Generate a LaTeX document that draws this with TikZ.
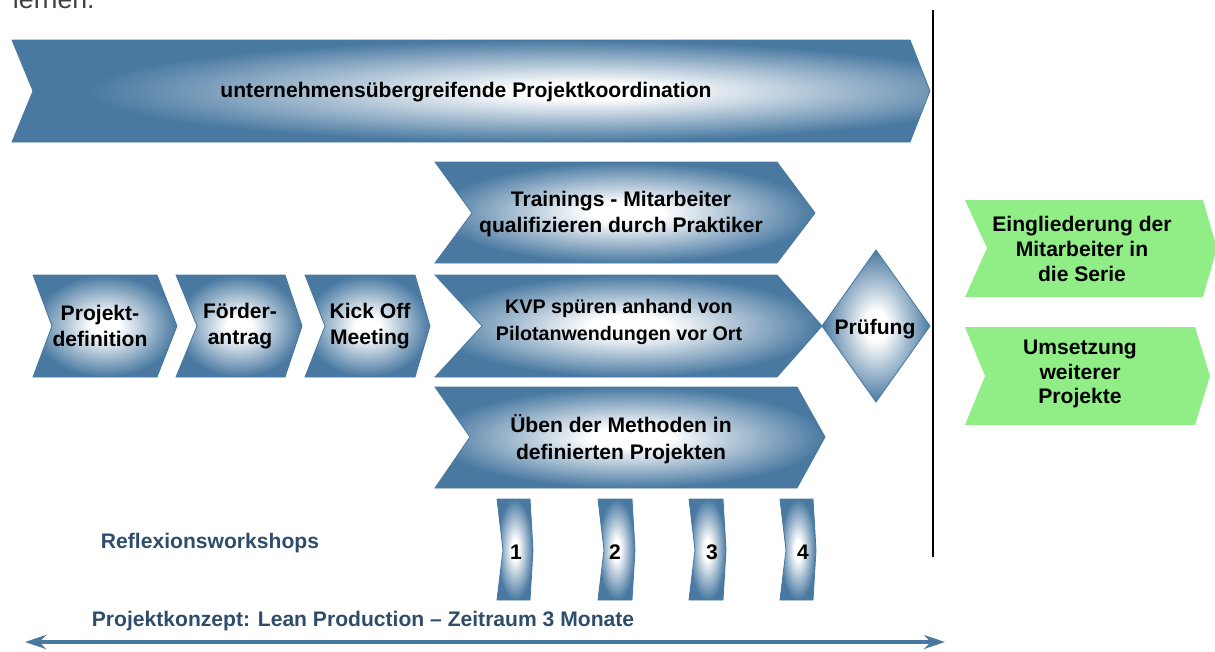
\documentclass[tikz,border=0pt]{standalone}
\usepackage{fontspec}
\setmainfont{Liberation Sans}
\usetikzlibrary{arrows.meta}
\definecolor{chevblue}{RGB}{73,121,161}
\definecolor{deepblue}{RGB}{46,77,107}
\definecolor{signgreen}{RGB}{145,238,135}
\pgfdeclareradialshading{chevglow}{\pgfpointorigin}{color(0bp)=(white); color(5bp)=(white); color(25bp)=(chevblue); color(50bp)=(chevblue)}
\pgfdeclareradialshading{longglow}{\pgfpoint{7bp}{0bp}}{color(0bp)=(white); color(4bp)=(white); color(25bp)=(chevblue); color(60bp)=(chevblue)}
\begin{document}
\begin{tikzpicture}[x=0.025cm,y=-0.025cm,>={Stealth[length=15pt,width=10pt]},
 chev/.style={shading=chevglow,draw=chevblue,line width=0.6pt},
 greenchev/.style={fill=signgreen},
 lbl/.style={font=\bfseries\fontsize{15}{19}\selectfont,align=center},
 bluelbl/.style={font=\bfseries\fontsize{15}{19}\selectfont,text=deepblue}]
 \useasboundingbox (0,0) rectangle (1215,651);
 \node[anchor=base west,font=\fontsize{19}{22}\selectfont,text=black!75] (lern) at (8,9) {lernen.};
 % Koordination
 \shadedraw[chev,shading=longglow] (12,40) -- (910,40) -- (930,91) -- (910,142) -- (12,142) -- (33,91) -- cycle;
 \node[lbl] (koord) at (466,92) {unternehmensübergreifende Projektkoordination};
 % Vorbereitung
 \shadedraw[chev] (33,275) -- (157,275) -- (177,326) -- (157,377) -- (33,377) -- (52,326) -- cycle;
 \shadedraw[chev] (176,275) -- (285,275) -- (302,326) -- (285,377) -- (176,377) -- (197,326) -- cycle;
 \shadedraw[chev] (305,275) -- (415,275) -- (430,326) -- (415,377) -- (305,377) -- (325,326) -- cycle;
 \node[lbl] (def) at (100,326) {Projekt-\\definition};
 \node[lbl] (antrag) at (240,326) {Förder-\\antrag};
 \node[lbl] (kick) at (370,326) {Kick Off\\Meeting};
 % Umsetzung
 \shadedraw[chev] (435,162) -- (777,162) -- (815,213) -- (777,263) -- (435,263) -- (472,213) -- cycle;
 \shadedraw[chev] (435,275) -- (777,275) -- (822,326) -- (777,377) -- (435,377) -- (482,326) -- cycle;
 \shadedraw[chev] (435,387) -- (797,387) -- (825,437) -- (797,488) -- (435,488) -- (470,437) -- cycle;
 \node[lbl] (train) at (621,214) {Trainings - Mitarbeiter\\qualifizieren durch Praktiker};
 \node[lbl,font=\bfseries\fontsize{14}{19}\selectfont] (kvp) at (619,322) {KVP spüren anhand von\\Pilotanwendungen vor Ort};
 \node[lbl] (ueben) at (621,439) {Üben der Methoden in\\definierten Projekten};
 \shadedraw[chev] (876,250) -- (930,326) -- (876,402) -- (822,326) -- cycle;
 \node[lbl] (pruef) at (875,329) {Prüfung};
 % Reflexionsworkshops
 \shadedraw[chev] (497,499) -- (530,499) -- (533,550) -- (530,600) -- (497,600) -- (503,550) -- cycle;
 \shadedraw[chev] (598,499) -- (632,499) -- (635,550) -- (632,600) -- (598,600) -- (604,550) -- cycle;
 \shadedraw[chev] (689,499) -- (723,499) -- (726,550) -- (723,600) -- (689,600) -- (695,550) -- cycle;
 \shadedraw[chev] (780,499) -- (813,499) -- (816,550) -- (813,600) -- (780,600) -- (786,550) -- cycle;
 \node[lbl] (ws1) at (516,552) {1};
 \node[lbl] (ws2) at (615,552) {2};
 \node[lbl] (ws3) at (712,552) {3};
 \node[lbl] (ws4) at (803,552) {4};
 \node[bluelbl] (refl) at (210,543) {Reflexionsworkshops};
 % Trennlinie
 \coordinate (vt) at (933,10);
 \coordinate (vb) at (933,557);
 \draw[line width=1.2pt] (vt) -- (vb);
 % danach
 \fill[greenchev] (965,200) -- (1203,200) -- (1217,248) -- (1203,297) -- (965,297) -- (987,248) -- cycle;
 \fill[greenchev] (965,327) -- (1195,327) -- (1210,376) -- (1195,425) -- (965,425) -- (985,376) -- cycle;
 \node[lbl,font=\bfseries\fontsize{15}{17.5}\selectfont] (serie) at (1082,249) {Eingliederung der\\Mitarbeiter in\\die Serie};
 \node[lbl,font=\bfseries\fontsize{15}{17.5}\selectfont] (weitere) at (1080,374) {Umsetzung\\weiterer\\Projekte};
 % Zeitraum
 \node[bluelbl] (konzept) at (363,621) {Projektkonzept: Lean Production -- Zeitraum 3 Monate};
 \coordinate (pkl) at (25,642);
 \coordinate (pkr) at (945,642);
 \draw[<->,chevblue,line width=2.8pt] (pkl) -- (pkr);
\end{tikzpicture}
\end{document}
